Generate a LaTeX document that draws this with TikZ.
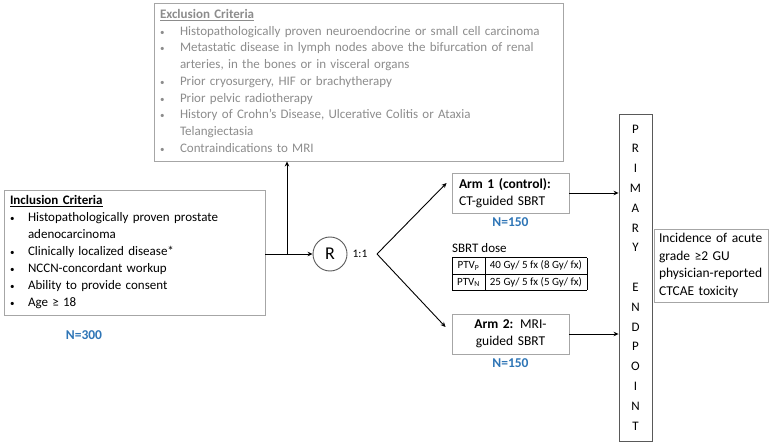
\documentclass[tikz,border=0pt]{standalone}
\usepackage{fontspec}
\setmainfont{Carlito}
\usetikzlibrary{arrows.meta, positioning}
\definecolor{exgray}{HTML}{8C8C8C}
\definecolor{boxgray}{HTML}{A6A6A6}
\definecolor{edgegray}{HTML}{595959}
\definecolor{nblue}{HTML}{2E75B6}
\newcommand{\dotitem}{{\fontsize{9}{9}\selectfont\textbullet}}
\tikzstyle{critbox} = [rectangle, draw=boxgray, line width=0.9pt, inner xsep=6pt,
                       inner ysep=0pt, align=left, font=\fontsize{13}{17}\selectfont]
\tikzstyle{armbox}  = [rectangle, draw=boxgray, line width=0.9pt, minimum width=117pt,
                       minimum height=40pt, text width=103pt, inner xsep=7pt,
                       font=\fontsize{13.5}{17.5}\selectfont]
\tikzstyle{ncount}  = [text=nblue, font=\fontsize{13.5}{15}\selectfont\bfseries, inner sep=1pt]
\tikzstyle{letter}  = [font=\fontsize{13}{14}\selectfont, inner sep=0pt]
\tikzstyle{arrow}   = [-{Stealth[length=5pt, width=4.5pt]}, line width=0.9pt]

\begin{document}
\begin{tikzpicture}[x=1pt, y=-1pt]
  \useasboundingbox (0,0) rectangle (778,446);

  % Exclusion and inclusion criteria
  \node[critbox, text=exgray, text width=397pt, minimum height=158pt,
        font=\fontsize{13}{16.7}\selectfont] (excl) at (358.5,82) {%
    \begin{tabular}{@{}p{20pt}@{}l@{}}
      \multicolumn{2}{@{}l}{\underline{\textbf{Exclusion Criteria}}}\\
      \dotitem & Histopathologically proven neuroendocrine  or small cell carcinoma\\
      \dotitem & Metastatic disease in lymph nodes above the bifurcation of renal\\
               & arteries, in the bones or in visceral organs\\
      \dotitem & Prior cryosurgery, HIF or brachytherapy\\
      \dotitem & Prior pelvic radiotherapy\\
      \dotitem & History of Crohn’s Disease, Ulcerative Colitis or Ataxia\\
               & Telangiectasia\\
      \dotitem & Contraindications to MRI
    \end{tabular}};
  \node[critbox, text width=249pt, minimum height=125pt] (incl) at (134.5,252.5) {%
    \begin{tabular}{@{}p{18pt}@{}l@{}}
      \multicolumn{2}{@{}l}{\underline{\textbf{Inclusion Criteria}}}\\
      \dotitem & Histopathologically proven prostate\\
               & adenocarcinoma\\
      \dotitem & Clinically localized disease*\\
      \dotitem & NCCN-concordant workup\\
      \dotitem & Ability to provide consent\\
      \dotitem & Age ≥ 18
    \end{tabular}};
  \node[ncount] (n300) at (84,335) {N=300};

  % Randomisation
  \node[circle, draw=edgegray, line width=0.9pt, minimum size=34pt, inner sep=0pt,
        font=\fontsize{18}{20}\selectfont] (rnd) at (330,254) {R};
  \node[font=\fontsize{11.5}{13}\selectfont] (ratio) at (360,254) {1:1};
  \coordinate (split) at (287,254);
  \coordinate (fork) at (377,254);

  % Arms
  \node[armbox, align=left] (arm1) at (510.5,193) {\textbf{Arm 1 (control):}\\CT-guided SBRT};
  \node[ncount, below=3pt of arm1] (n150a) {N=150};
  \node[armbox, align=center, font=\fontsize{13.5}{16.7}\selectfont] (arm2) at (510.5,334)
    {\textbf{Arm 2:} MRI-\\guided SBRT};
  \node[ncount, below=3pt of arm2] (n150b) {N=150};

  % SBRT dose table
  \node[anchor=west, inner sep=0pt, font=\fontsize{13}{15}\selectfont] (dose) at (452,248) {SBRT dose};
  \node[anchor=north west, inner sep=0pt, font=\fontsize{11}{13.2}\selectfont] (tab) at (452,257) {%
    \setlength{\tabcolsep}{5pt}\renewcommand{\arraystretch}{1.21}%
    \begin{tabular}{|c|l|}
      \hline
      PTV\textsubscript{P} & 40 Gy/ 5 fx (8 Gy/ fx)\\
      \hline
      PTV\textsubscript{N} & 25 Gy/ 5 fx (5 Gy/ fx)\\
      \hline
    \end{tabular}};

  % Primary endpoint
  \node[rectangle, draw=edgegray, line width=0.9pt, minimum width=33pt, minimum height=327pt]
    (endpt) at (635.5,277.5) {};
  \foreach \ch [count=\i from 0] in {P,R,I,M,A,R,Y}
    \node[letter] (top\i) at (635.5,129+19.8*\i) {\ch};
  \foreach \ch [count=\i from 0] in {E,N,D,P,O,I,N,T}
    \node[letter] (bot\i) at (635.5,287.4+19.8*\i) {\ch};
  \node[rectangle, draw=boxgray, line width=0.9pt, minimum width=114pt, minimum height=73pt,
        text width=104pt, inner xsep=5pt, align=left, font=\fontsize{13.5}{17.7}\selectfont]
    (outc) at (711,265.5) {Incidence of acute\\grade ≥2 GU\\physician-reported\\CTCAE toxicity};

  % Connectors
  \draw[arrow] (incl.east |- rnd) -- (rnd.west);
  \draw[arrow] (split) -- (split |- excl.south);
  \draw[arrow] (fork) -- ([xshift=-5pt, yshift=10pt]arm1.west);
  \draw[arrow] (fork) -- ([xshift=-6pt, yshift=7pt]arm2.west);
  \draw[arrow] (arm1.east) -- (arm1.east -| endpt.west);
  \draw[arrow] (arm2.east) -- (arm2.east -| endpt.west);
\end{tikzpicture}
\end{document}
